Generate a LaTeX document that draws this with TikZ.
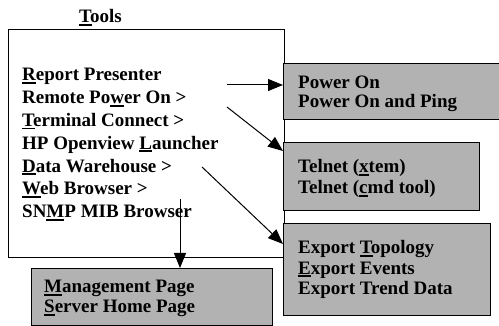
\documentclass[tikz,border=0pt]{standalone}
\usepackage{fontspec}
\setmainfont{Liberation Serif}
\usetikzlibrary{arrows.meta}
\definecolor{boxgray}{RGB}{178,178,178}
\newcommand\acc[1]{\setbox0\hbox{#1}\rlap{\rule[-2.8pt]{\wd0}{1.8pt}}#1}
\tikzset{
 txt/.style={anchor=base west, inner sep=0pt, font=\fontsize{19}{23}\selectfont\bfseries},
 graybox/.style={draw, line width=1.1pt, fill=boxgray, inner sep=0pt, anchor=north west},
 arr/.style={line width=1pt, -{Triangle[length=15pt,width=12pt]}},
}
\begin{document}
\begin{tikzpicture}[x=1pt,y=-1pt]
\useasboundingbox (0,0) rectangle (499,326);
% main menu box
\node[draw, line width=1pt, anchor=north west, minimum width=276pt, minimum height=228pt, inner sep=0pt] (tools) at (8,29) {};
\node[txt] (title) at (79,23) {\acc{T}ools};
\node[txt] (m1) at (22,81) {\acc{R}eport Presenter};
\node[txt] (m2) at (22,103.8) {Remote Po\acc{w}er On >};
\node[txt] (m3) at (22,126.6) {\acc{T}erminal Connect >};
\node[txt] (m4) at (22,149.4) {HP Openview \acc{L}auncher};
\node[txt] (m5) at (22,172.2) {\acc{D}ata Warehouse >};
\node[txt] (m6) at (22,195) {\acc{W}eb Browser >};
\node[txt] (m7) at (22,217.8) {SN\acc{M}P MIB Browser};
% submenu boxes
\node[graybox, minimum width=222pt, minimum height=56pt] (power) at (283,63) {};
\node[txt] (p1) at (298,89) {Power On};
\node[txt] (p2) at (298,108) {Power On and Ping};
\node[graybox, minimum width=196pt, minimum height=68pt] (telnet) at (283,142) {};
\node[txt] (t1) at (298,173) {Telnet (\acc{x}tem)};
\node[txt] (t2) at (298,194) {Telnet (\acc{c}md tool)};
\node[graybox, minimum width=207pt, minimum height=92pt] (export) at (283,223) {};
\node[txt] (e1) at (298,254) {Export \acc{T}opology};
\node[txt] (e2) at (298,274.5) {\acc{E}xport Events};
\node[txt] (e3) at (298,295) {Export Trend Data};
\node[graybox, minimum width=241pt, minimum height=57pt] (mgmt) at (31,268) {};
\node[txt] (g1) at (44,293) {\acc{M}anagement Page};
\node[txt] (g2) at (44,313) {\acc{S}erver Home Page};
% connectors
\coordinate (s1) at (227,85);
\coordinate (s2) at (227,107);
\coordinate (s3) at (202,167);
\coordinate (s4) at (180,199);
\draw[arr] (s1) -- (power.west |- s1);
\draw[arr] (s2) -- ([yshift=-9pt]telnet.north west);
\draw[arr] (s3) -- ([yshift=-21pt]export.north west);
\draw[arr] (s4) -- (s4 |- mgmt.north);
\end{tikzpicture}
\end{document}
